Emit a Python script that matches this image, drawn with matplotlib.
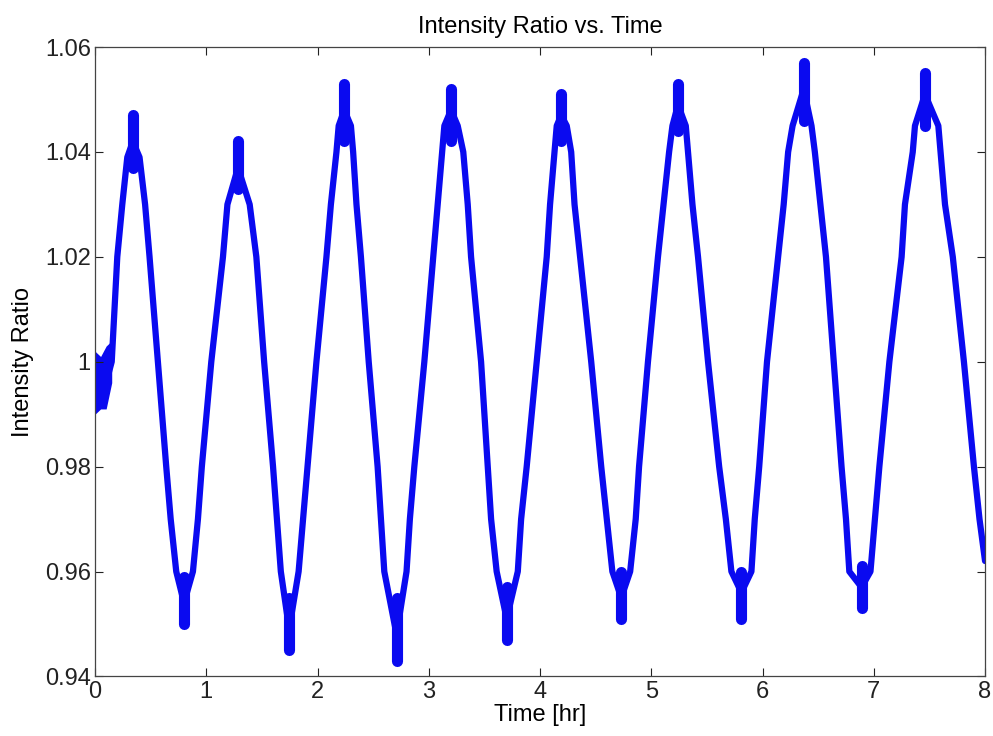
import matplotlib.pyplot as plt

# time [hr] and intensity ratio along the trace
t_hr = [
    0.00, 0.05, 0.10, 0.15, 0.20, 0.245, 0.29, 0.34, 0.40, 0.45, 0.49,
    0.565, 0.64, 0.68, 0.73, 0.80, 0.88, 0.925, 0.96,
    1.045, 1.15, 1.19, 1.285, 1.39, 1.45, 1.52, 1.60, 1.635, 1.67, 1.745,
    1.83, 1.87, 1.91,
    1.99, 2.08, 2.12, 2.17, 2.19, 2.24, 2.30, 2.32, 2.35, 2.39, 2.46, 2.54,
    2.57, 2.60, 2.71, 2.80, 2.83, 2.87,
    2.96, 3.04, 3.08, 3.12, 3.14, 3.20, 3.26, 3.31, 3.35, 3.38, 3.47, 3.53,
    3.56, 3.61, 3.70, 3.80, 3.83, 3.88,
    3.97, 4.06, 4.09, 4.13, 4.15, 4.19, 4.24, 4.28, 4.31, 4.36, 4.46, 4.55,
    4.60, 4.65, 4.73, 4.81, 4.86, 4.89,
    4.97, 5.06, 5.11, 5.16, 5.19, 5.24, 5.31, 5.33, 5.37, 5.42, 5.51, 5.61,
    5.67, 5.72, 5.81, 5.90, 5.93, 5.97,
    6.04, 6.14, 6.19, 6.23, 6.27, 6.37, 6.44, 6.47, 6.52, 6.57, 6.64, 6.71,
    6.75, 6.78, 6.89, 6.97, 7.01, 7.05,
    7.14, 7.25, 7.28, 7.35, 7.37, 7.46, 7.58, 7.60, 7.64, 7.71, 7.81, 7.90,
    7.95, 8.00,
]
ratio = [
    0.996, 0.995, 0.996, 1.000, 1.020, 1.030, 1.039, 1.042, 1.039, 1.030, 1.020,
    1.000, 0.980, 0.970, 0.960, 0.954, 0.960, 0.970, 0.980,
    1.000, 1.020, 1.030, 1.037, 1.030, 1.020, 1.000, 0.980, 0.970, 0.960, 0.949,
    0.960, 0.970, 0.980,
    1.000, 1.020, 1.030, 1.040, 1.045, 1.048, 1.045, 1.040, 1.030, 1.020, 1.000, 0.980,
    0.970, 0.960, 0.948, 0.960, 0.970, 0.980,
    1.000, 1.020, 1.030, 1.040, 1.045, 1.048, 1.045, 1.040, 1.030, 1.020, 1.000, 0.980,
    0.970, 0.960, 0.951, 0.960, 0.970, 0.980,
    1.000, 1.020, 1.030, 1.040, 1.045, 1.047, 1.045, 1.040, 1.030, 1.020, 1.000, 0.980,
    0.970, 0.960, 0.955, 0.960, 0.970, 0.980,
    1.000, 1.020, 1.030, 1.040, 1.045, 1.049, 1.045, 1.040, 1.030, 1.020, 1.000, 0.980,
    0.970, 0.960, 0.956, 0.960, 0.970, 0.980,
    1.000, 1.020, 1.030, 1.040, 1.045, 1.052, 1.045, 1.040, 1.030, 1.020, 1.000, 0.980,
    0.970, 0.960, 0.957, 0.960, 0.970, 0.980,
    1.000, 1.020, 1.030, 1.040, 1.045, 1.051, 1.045, 1.040, 1.030, 1.020, 1.000, 0.980,
    0.970, 0.962,
]

# noise spread at the start, before the oscillation sets in
start_t = [0.00, 0.05, 0.10, 0.15]
start_lo = [0.990, 0.991, 0.991, 0.996]
start_hi = [1.002, 1.001, 1.003, 1.004]

# noise blob at each maximum / minimum
ext_t = [0.34, 0.80, 1.285, 1.745, 2.24, 2.71, 3.20, 3.70, 4.19, 4.73,
         5.24, 5.81, 6.37, 6.89, 7.46]
ext_lo = [1.037, 0.950, 1.033, 0.945, 1.042, 0.943, 1.042, 0.947, 1.042, 0.951,
          1.044, 0.951, 1.046, 0.953, 1.045]
ext_hi = [1.047, 0.959, 1.042, 0.955, 1.053, 0.955, 1.052, 0.957, 1.051, 0.960,
          1.053, 0.960, 1.057, 0.961, 1.055]

x_ticks = [0, 1, 2, 3, 4, 5, 6, 7, 8]
y_ticks = [0.94, 0.96, 0.98, 1.00, 1.02, 1.04, 1.06]
y_tick_labels = ["0.94", "0.96", "0.98", "1", "1.02", "1.04", "1.06"]

plt.rcParams["font.family"] = ["Liberation Sans", "DejaVu Sans"]

fig = plt.figure(figsize=(9.93, 7.36), dpi=100)
ax = fig.add_axes([0.0957, 0.081, 0.8963, 0.855])

blue = "#0a0af0"
ax.plot(t_hr, ratio, color=blue, linewidth=4.5,
        solid_joinstyle="round", solid_capstyle="round")
ax.fill_between(start_t, start_lo, start_hi, color=blue, linewidth=0)
ax.vlines(ext_t, ext_lo, ext_hi, color=blue, linewidth=8, capstyle="round")

ax.set_xlim(0, 8)
ax.set_ylim(0.94, 1.06)
ax.set_xticks(x_ticks)
ax.set_yticks(y_ticks)
ax.set_yticklabels(y_tick_labels)
ax.tick_params(direction="in", length=6, width=0.8, top=True, right=True,
               labelsize=17, colors="#222222", pad=3)
for s in ax.spines.values():
    s.set_color("#444444")
    s.set_linewidth(0.9)

ax.set_title("Intensity Ratio vs. Time", fontsize=17, pad=10)
ax.set_xlabel("Time [hr]", fontsize=17, labelpad=1)
ax.set_ylabel("Intensity Ratio", fontsize=17, labelpad=8)

fig.savefig("out.png", dpi=100)
